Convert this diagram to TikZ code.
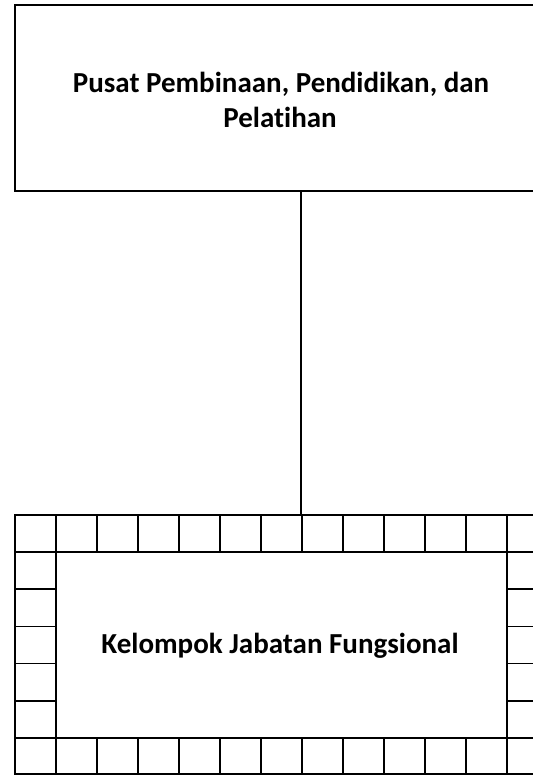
\documentclass[tikz,border=0pt]{standalone}
\usepackage{fontspec}
\setmainfont{Carlito}[Ligatures=NoCommon]
\begin{document}
\begin{tikzpicture}[x=1pt,y=-1pt,
  frame/.style={draw=black,line width=1.6pt},
  boxtext/.style={font=\bfseries\fontsize{29}{35}\selectfont,anchor=base,inner sep=0pt}]
\useasboundingbox (0,0) rectangle (533,777);
% top box
\node[frame,minimum width=536pt,minimum height=186pt,inner sep=0pt] (top) at (283,98) {};
\node[boxtext] (toptext1) at (281,92) {Pusat Pembinaan, Pendidikan, dan};
\node[boxtext] (toptext2) at (280,127.5) {Pelatihan};
% bottom box
\node[frame,minimum width=533pt,minimum height=259pt,inner sep=0pt] (bot) at (281.5,644.5) {};
\node[boxtext] (bottext) at (280,653) {Kelompok Jabatan Fungsional};
% brick border
\draw[line width=1.6pt] (15,552) -- (548,552) (15,738) -- (548,738)
  (56,552) -- (56,738) (507,552) -- (507,738);
\foreach \k in {1,...,12} {
  \draw[line width=1.6pt] ({15+41*\k},515) -- ({15+41*\k},552)
                          ({15+41*\k},738) -- ({15+41*\k},774);
}
\foreach \j in {1,...,4} {
  \draw[line width=1.6pt] (15,{552+37.2*\j}) -- (56,{552+37.2*\j})
                          (507,{552+37.2*\j}) -- (548,{552+37.2*\j});
}
% connector
\coordinate (cx) at (301,0);
\draw[line width=1.6pt] (cx |- top.south) -- (cx |- bot.north);
\end{tikzpicture}
\end{document}
